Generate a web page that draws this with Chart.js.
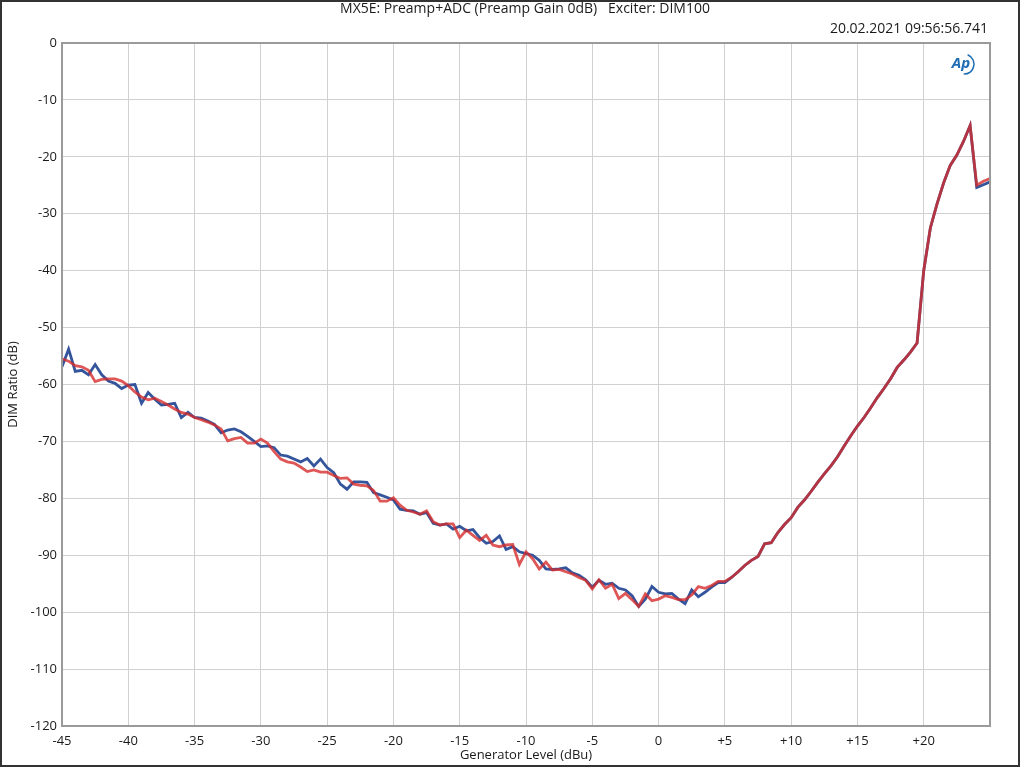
<!DOCTYPE html>
<html>
<head>
<meta charset="utf-8">
<script src="https://cdn.jsdelivr.net/npm/chart.js@4"></script>
<style>
  html, body { margin: 0; padding: 0; background: #fff; }
  #wrap { width: 1024px; height: 768px; position: relative; }
</style>
</head>
<body>
<div id="wrap"><canvas id="dim-chart" width="1024" height="768"></canvas></div>
<script>
const chartTitle = 'MX5E: Preamp+ADC (Preamp Gain 0dB)   Exciter: DIM100';
const timeStamp = '20.02.2021 09:56:56.741';

// generator sweep, dBu
const levels = [
  -45, -44.5, -44, -43.5, -43, -42.5, -42, -41.5, -41, -40.5,
  -40, -39.5, -39, -38.5, -38, -37.5, -37, -36.5, -36, -35.5,
  -35, -34.5, -34, -33.5, -33, -32.5, -32, -31.5, -31, -30.5,
  -30, -29.5, -29, -28.5, -28, -27.5, -27, -26.5, -26, -25.5,
  -25, -24.5, -24, -23.5, -23, -22.5, -22, -21.5, -21, -20.5,
  -20, -19.5, -19, -18.5, -18, -17.5, -17, -16.5, -16, -15.5,
  -15, -14.5, -14, -13.5, -13, -12.5, -12, -11.5, -11, -10.5,
  -10, -9.5, -9, -8.5, -8, -7.5, -7, -6.5, -6, -5.5,
  -5, -4.5, -4, -3.5, -3, -2.5, -2, -1.5, -1, -0.5,
  0, 0.5, 1, 1.5, 2, 2.5, 3, 3.5, 4, 4.5,
  5, 5.5, 6, 6.5, 7, 7.5, 8, 8.5, 9, 9.5,
  10, 10.5, 11, 11.5, 12, 12.5, 13, 13.5, 14, 14.5,
  15, 15.5, 16, 16.5, 17, 17.5, 18, 18.5, 19, 19.5,
  20, 20.5, 21, 21.5, 22, 22.5, 23, 23.5, 24, 24.5, 25
];

// DIM ratio, dB
const blueRatio = [
  -56.9, -53.8, -57.7, -57.5, -58.3, -56.5, -58.3, -59.4, -59.8, -60.7,
  -60.1, -60.0, -63.3, -61.4, -62.6, -63.6, -63.5, -63.3, -65.8, -64.9,
  -65.8, -65.9, -66.4, -67.0, -68.5, -68.0, -67.8, -68.3, -69.1, -70.0,
  -70.9, -70.8, -71.1, -72.4, -72.6, -73.1, -73.6, -73.0, -74.3, -73.1,
  -74.6, -75.5, -77.5, -78.4, -77.1, -77.1, -77.2, -79.0, -79.4, -79.8,
  -80.3, -81.9, -82.1, -82.2, -82.8, -82.5, -84.4, -84.7, -84.5, -85.4,
  -84.9, -85.7, -85.5, -86.9, -87.9, -87.6, -86.6, -89.0, -88.5, -89.4,
  -89.7, -90.0, -90.9, -92.4, -92.5, -92.4, -92.2, -93.1, -93.5, -94.3,
  -95.6, -94.4, -95.1, -94.9, -95.8, -96.1, -97.1, -99.0, -97.7, -95.5,
  -96.5, -96.8, -96.7, -97.7, -98.5, -96.1, -97.3, -96.5, -95.6, -94.8,
  -94.8, -93.9, -92.9, -91.8, -90.9, -90.2, -88.0, -87.8, -86.0, -84.6,
  -83.4, -81.6, -80.3, -78.8, -77.2, -75.7, -74.3, -72.7, -70.8, -69.0,
  -67.3, -65.8, -64.1, -62.3, -60.7, -59.0, -57.0, -55.7, -54.3, -52.7,
  -40.0, -32.5, -28.3, -24.6, -21.5, -19.7, -17.3, -14.5, -25.4, -24.9, -24.4
];

const redRatio = [
  -55.5, -55.9, -56.7, -56.9, -57.5, -59.5, -59.1, -59.0, -59.0, -59.4,
  -60.2, -61.3, -62.2, -62.7, -62.4, -63.0, -63.6, -64.3, -64.9, -65.2,
  -65.8, -66.2, -66.6, -67.1, -67.8, -69.9, -69.5, -69.3, -70.3, -70.3,
  -69.6, -70.3, -71.8, -73.1, -73.6, -73.8, -74.5, -75.3, -75.0, -75.4,
  -75.4, -76.0, -76.5, -76.4, -77.5, -77.7, -77.8, -78.6, -80.5, -80.5,
  -79.9, -81.2, -82.1, -82.4, -82.8, -82.2, -84.1, -84.7, -84.5, -84.5,
  -86.9, -85.6, -86.5, -87.4, -86.5, -88.2, -88.5, -88.2, -88.1, -91.6,
  -89.4, -90.6, -92.4, -91.2, -92.6, -92.5, -92.9, -93.3, -93.9, -94.4,
  -95.9, -94.3, -95.8, -95.1, -97.6, -96.7, -97.8, -99.0, -96.8, -98.0,
  -97.7, -97.1, -97.4, -97.8, -97.8, -97.0, -95.5, -95.8, -95.3, -94.6,
  -94.6, -93.9, -92.9, -91.8, -90.9, -90.2, -88.0, -87.8, -86.0, -84.6,
  -83.4, -81.6, -80.3, -78.8, -77.2, -75.7, -74.3, -72.7, -70.8, -69.0,
  -67.3, -65.8, -64.1, -62.3, -60.7, -59.0, -57.0, -55.7, -54.3, -52.7,
  -40.0, -32.5, -28.3, -24.6, -21.5, -19.7, -17.3, -14.5, -25.0, -24.3, -23.8
];

const xTicks = [-45, -40, -35, -30, -25, -20, -15, -10, -5, 0, 5, 10, 15, 20];
const yTicks = [0, -10, -20, -30, -40, -50, -60, -70, -80, -90, -100, -110, -120];

const FONT = '"Open Sans", "Noto Sans", sans-serif';

const toPoints = vals => vals.map((v, i) => ({ x: levels[i], y: v }));

// frame, titles, logo
const decorations = {
  id: 'decorations',
  afterDraw(chart) {
    const c = chart.ctx;
    const a = chart.chartArea;
    c.save();
    c.strokeStyle = '#9a9a9a';
    c.lineWidth = 2;
    c.strokeRect(a.left, a.top, a.right - a.left, a.bottom - a.top);

    c.strokeStyle = '#333';
    c.lineWidth = 2;
    c.strokeRect(1, 1, 1018, 765);

    c.fillStyle = '#1a1a1a';
    c.textBaseline = 'middle';
    c.textAlign = 'center';
    c.font = '14px ' + FONT;
    c.fillText(chartTitle, 525, 9);
    c.textAlign = 'right';
    c.fillText(timeStamp, 988, 29);

    c.font = '13px ' + FONT;
    c.textAlign = 'center';
    c.fillText('Generator Level (dBu)', (a.left + a.right) / 2, 755);

    c.save();
    c.translate(13, (a.top + a.bottom) / 2);
    c.rotate(-Math.PI / 2);
    c.fillText('DIM Ratio (dB)', 0, 0);
    c.restore();

    // AP logo
    c.fillStyle = '#1e6db4';
    c.strokeStyle = '#1e6db4';
    c.font = 'italic bold 15px ' + FONT;
    c.textAlign = 'center';
    c.fillText('Ap', 961, 64);
    c.lineWidth = 1.5;
    c.beginPath();
    c.arc(964, 64, 10, -1.2, 1.6);
    c.stroke();
    c.restore();
  }
};

new Chart(document.getElementById('dim-chart'), {
  type: 'line',
  data: {
    datasets: [
      {
        label: 'Ch1',
        data: toPoints(blueRatio),
        borderColor: 'rgb(52, 84, 156)',
        borderWidth: 2.8,
        pointRadius: 0,
        tension: 0,
        fill: false,
        order: 2
      },
      {
        label: 'Ch2',
        data: toPoints(redRatio),
        borderColor: 'rgba(214, 44, 44, 0.8)',
        borderWidth: 2.8,
        pointRadius: 0,
        tension: 0,
        fill: false,
        order: 1
      }
    ]
  },
  options: {
    responsive: false,
    animation: false,
    layout: { padding: { left: 0, right: 34, top: 43, bottom: 0 } },
    plugins: {
      legend: { display: false },
      tooltip: { enabled: false }
    },
    scales: {
      x: {
        type: 'linear',
        min: -45,
        max: 25,
        afterFit: s => { s.height = 42; },
        afterBuildTicks: s => { s.ticks = xTicks.map(v => ({ value: v })); },
        grid: { color: '#d0d0d0', lineWidth: 1, drawTicks: false },
        border: { display: false },
        ticks: {
          padding: 7,
          color: '#1a1a1a',
          font: { family: FONT, size: 13 },
          maxRotation: 0,
          autoSkip: false,
          callback: v => (v > 0 ? '+' + v : String(v))
        }
      },
      y: {
        min: -120,
        max: 0,
        afterFit: s => { s.width = 62; },
        afterBuildTicks: s => { s.ticks = yTicks.map(v => ({ value: v })); },
        grid: { color: '#d0d0d0', lineWidth: 1, drawTicks: false },
        border: { display: false },
        ticks: {
          padding: 5,
          color: '#1a1a1a',
          font: { family: FONT, size: 13 },
          autoSkip: false
        }
      }
    }
  },
  plugins: [decorations]
});
</script>
</body>
</html>
